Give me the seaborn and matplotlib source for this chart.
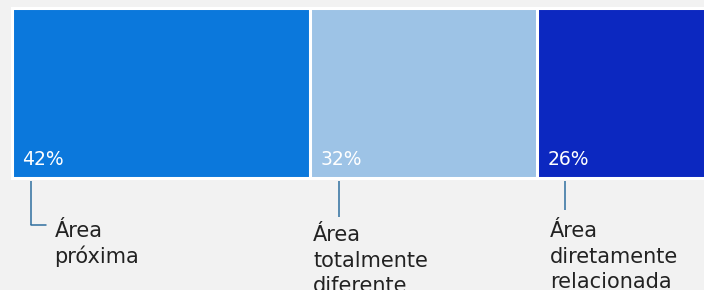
import numpy as np
import matplotlib.pyplot as plt
import seaborn as sns

# data
categories = ['Área próxima', 'Área totalmente diferente', 'Área diretamente relacionada']
label_lines = [['Área', 'próxima'], ['Área', 'totalmente', 'diferente'], ['Área', 'diretamente', 'relacionada']]
values = [42, 32, 26]
pct_labels = ['42%', '32%', '26%']
colors = ['#0b78dc', '#9dc3e6', '#0c28c0']

sns.set_theme(style='white')
plt.rcParams['font.family'] = ['DejaVu Sans']

bg = '#f2f2f2'
fig = plt.figure(figsize=(7.04, 2.90), dpi=100)
fig.patch.set_facecolor(bg)
ax = fig.add_axes([0, 0, 1, 1])
ax.set_facecolor(bg)

starts = np.concatenate([[0], np.cumsum(values)[:-1]])
ends = np.cumsum(values)

# stacked bar: draw the running totals, biggest first
for end, color in zip(ends[::-1], colors[::-1]):
    sns.barplot(x=[end], y=['total'], orient='h', color=color, saturation=1,
                width=0.8, edgecolor='white', linewidth=2.2, ax=ax)

ax.set_xlim(-12 / 7.1, (704 - 12) / 7.1)
ax.set_ylim((290 - 93) / 212.5, -93 / 212.5)
ax.axis('off')

# percentage labels inside the segments
for s, txt in zip(starts, pct_labels):
    ax.text(s + 1.45, 0.339, txt, color='white', fontsize=13.5, va='baseline', ha='left')

# leader lines + category labels
line_color = '#2f6f9f'
line_x = [2.7, 4.1, 3.9]
line_end = [0.621, 0.584, 0.551]
text_dx = [6.0, 0.4, 1.8]
text_y = [0.678, 0.696, 0.678]
line_step = 0.121
for i, s in enumerate(starts):
    x = s + line_x[i]
    ax.plot([x, x], [0.414, line_end[i]], color=line_color, lw=1.1, solid_capstyle='butt')
    if i == 0:
        ax.plot([x, x + 2.1], [line_end[i], line_end[i]], color=line_color, lw=1.1)
    for j, line in enumerate(label_lines[i]):
        ax.text(s + text_dx[i], text_y[i] + j * line_step, line, color='#222222',
                fontsize=15, va='baseline', ha='left')

fig.savefig('out.png', dpi=100, facecolor=bg)
